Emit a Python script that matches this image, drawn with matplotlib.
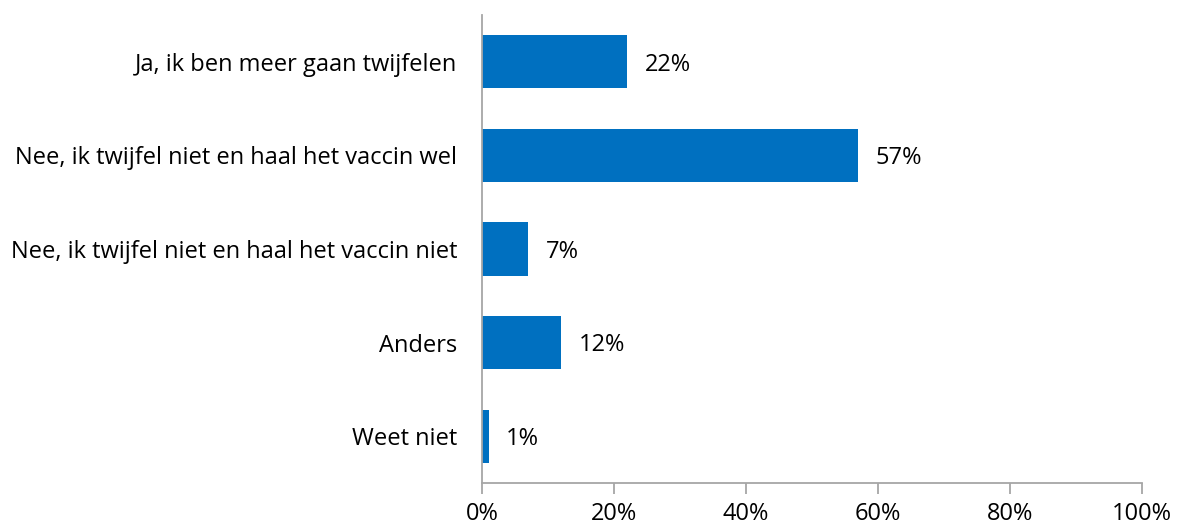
import matplotlib.pyplot as plt
from matplotlib import font_manager

# data
categories = ['Ja, ik ben meer gaan twijfelen',
              'Nee, ik twijfel niet en haal het vaccin wel',
              'Nee, ik twijfel niet en haal het vaccin niet',
              'Anders',
              'Weet niet']
values = [22, 57, 7, 12, 1]
ticks = [0, 20, 40, 60, 80, 100]

names = {f.name for f in font_manager.fontManager.ttflist}
fam = 'Liberation Sans Narrow' if 'Liberation Sans Narrow' in names else 'Open Sans'
plt.rcParams['font.family'] = [fam, 'DejaVu Sans']

fig = plt.figure(figsize=(11.8, 5.31), dpi=100)
ax = fig.add_axes([0.4085, 0.0904, 0.5594, 0.8814])

pos = range(len(categories))
ax.barh(pos, values, height=0.57, color='#0070C0')
for p, v in zip(pos, values):
    ax.text(v + 2.6, p + 0.03, f'{v}%', va='center', ha='left', fontsize=17, color='black')

ax.set_xlim(0, 100)
ax.set_ylim(len(categories) - 0.5, -0.5)
ax.set_yticks(list(pos))
ax.set_yticklabels(categories, fontsize=17)
ax.set_xticks(ticks)
ax.set_xticklabels([f'{t}%' for t in ticks], fontsize=17)

for s in ['top', 'right']:
    ax.spines[s].set_visible(False)
for s in ['left', 'bottom']:
    ax.spines[s].set_color('#a6a6a6')
    ax.spines[s].set_linewidth(1.3)
ax.tick_params(axis='y', length=0, pad=18)
ax.tick_params(axis='x', length=8, width=1.3, color='#a6a6a6', pad=6)

plt.savefig('out.png', dpi=100)
